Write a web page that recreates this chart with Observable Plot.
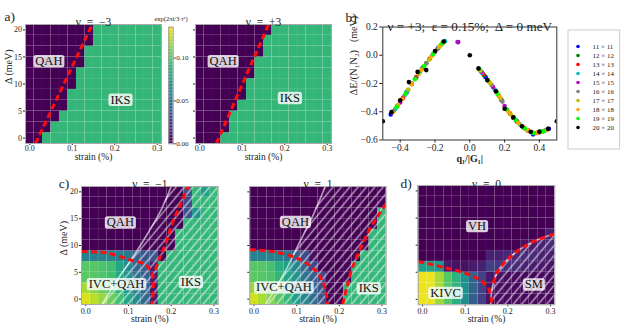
<!DOCTYPE html>
<html><head><meta charset="utf-8">
<script src="https://cdn.jsdelivr.net/npm/d3@7"></script>
<script src="https://cdn.jsdelivr.net/npm/@observablehq/plot@0.6"></script>
<style>
html,body{margin:0;padding:0;background:#fff;}
#root{position:relative;width:623px;height:329px;overflow:hidden;background:#fff;}
#root svg{position:absolute;overflow:visible;}
</style></head><body><div id="root"></div>
<script>
// ---------------- data ----------------
const strains = [0,0.02,0.04,0.06,0.08,0.1,0.12,0.14,0.16,0.18,0.2,0.22,0.24,0.26,0.28,0.3];
const deltas = [0,2,4,6,8,10,12,14,16,18,20];
const valQAH = 0, valIKS = 0.09;
// first IKS column (index into strains) for each Δ row, panel a
const edgeNuM3 = [2,3,4,5,5,6,6,7,7,8,8];
const edgeNuP3 = [3,4,4,5,6,6,7,7,8,8,9];
// panel c/d grids, rows listed from Δ=20 (top) down to Δ=0
const gridNuM1 = [
 [0,0,0,0,0,0,0,0,0,0,0,0,0.035,0.09,0.075,0.09],
 [0,0,0,0,0,0,0,0,0,0,0,0,0.03,0.09,0.09,0.09],
 [0,0,0,0,0,0,0,0,0,0,0,0,0.035,0.07,0.09,0.09],
 [0,0,0,0,0,0,0,0,0,0,0,0,0.09,0.09,0.09,0.09],
 [0,0,0,0,0,0,0,0,0,0,0,0.09,0.09,0.09,0.09,0.09],
 [0,0,0,0,0,0,0,0,0,0,0,0.09,0.09,0.09,0.09,0.09],
 [0.06,0.06,0.06,0.06,0.058,0.055,0.04,0.035,0.035,0,0.09,0.09,0.09,0.09,0.09,0.09],
 [0.1,0.1,0.098,0.095,0.08,0.065,0.045,0.04,0.01,0.09,0.09,0.09,0.09,0.09,0.09,0.09],
 [0.102,0.1,0.098,0.095,0.082,0.068,0.05,0.04,0.012,0.09,0.09,0.09,0.09,0.09,0.09,0.09],
 [0.118,0.112,0.105,0.1,0.09,0.075,0.06,0.045,0.01,0.09,0.09,0.09,0.09,0.09,0.09,0.09],
 [0.128,0.122,0.115,0.105,0.095,0.08,0.065,0.045,0.01,0.09,0.09,0.09,0.09,0.09,0.09,0.09]
];
const gridNuP1 = [
 [0,0,0,0,0,0,0,0,0,0,0,0,0,0,0,0],
 [0,0,0,0,0,0,0,0,0,0,0,0,0,0,0,0],
 [0,0,0,0,0,0,0,0,0,0,0,0,0,0,0,0.09],
 [0,0,0,0,0,0,0,0,0,0,0,0,0,0,0,0.09],
 [0,0,0,0,0,0,0,0,0,0,0,0,0,0,0.09,0.09],
 [0,0,0,0,0,0,0,0,0,0,0,0,0,0,0.09,0.09],
 [0.06,0.06,0.06,0.058,0.055,0.04,0.03,0.005,0,0,0,0,0,0.09,0.09,0.09],
 [0.1,0.1,0.096,0.085,0.075,0.062,0.045,0.03,0,0,0,0,0.09,0.09,0.09,0.09],
 [0.102,0.1,0.098,0.09,0.08,0.068,0.052,0.04,0.03,0,0,0,0.09,0.09,0.09,0.09],
 [0.115,0.108,0.1,0.095,0.085,0.072,0.058,0.045,0.035,0,0,0.09,0.09,0.09,0.09,0.09],
 [0.126,0.118,0.11,0.1,0.09,0.077,0.062,0.048,0.035,0,0,0.09,0.09,0.09,0.09,0.09]
];
const gridNu0 = [
 [0,0,0,0,0,0,0,0,0,0,0,0,0,0,0,0],
 [0,0,0,0,0,0,0,0,0,0,0,0,0,0,0,0],
 [0,0,0,0,0,0,0,0,0,0,0,0,0,0,0,0],
 [0,0,0,0,0,0,0,0,0,0,0,0,0,0,0,0],
 [0,0,0,0,0,0,0,0,0,0,0,0,0,0,0,0.012],
 [0,0,0,0,0,0,0,0,0,0,0,0,0.006,0.01,0.012,0.015],
 [0,0,0,0,0,0,0,0,0.012,0.012,0.014,0.015,0.016,0.015,0.012,0.01],
 [0.078,0.078,0.072,0.01,0.006,0.006,0.01,0.012,0.025,0.022,0.018,0.015,0.012,0.01,0.008,0.006],
 [0.132,0.132,0.118,0.1,0.088,0.068,0.042,0.027,0.008,0.006,0.004,0.003,0.003,0.003,0.003,0.003],
 [0.132,0.132,0.118,0.1,0.088,0.068,0.042,0.027,0.007,0.005,0.004,0.003,0.003,0.003,0.003,0.003],
 [0.132,0.132,0.116,0.1,0.086,0.066,0.04,0.025,0.006,0.004,0.003,0.003,0.003,0.003,0.003,0.003]
];
// phase boundaries (strain, Δ)
const redNuM3 = [[0.0135,-1],[0.147,21]];
const redNuP3 = [[0.039,-1],[0.162,21]];
const redNuM1a = [[-0.01,8.9],[0.05,8.6],[0.105,7.3],[0.14,6.4],[0.156,4.6],[0.158,2.5],[0.157,0.5],[0.155,-1]];
const redNuM1b = [[0.163,5.5],[0.172,7.5],[0.187,10.3],[0.202,14],[0.222,17.7],[0.24,21]];
const redNuP1a = [[-0.01,9.2],[0.05,8.8],[0.105,7.5],[0.144,5.35],[0.163,2.9],[0.171,0],[0.172,-1]];
const redNuP1b = [[0.208,-1],[0.218,2.3],[0.23,5.7],[0.249,9.35],[0.269,12.7],[0.288,15.2],[0.31,17.8]];
const redNu0a = [[-0.01,7.0],[0.05,5.9],[0.105,4.7],[0.136,3.5],[0.155,1.95],[0.161,0.1],[0.162,-1]];
const redNu0b = [[0.166,3],[0.178,5.4],[0.195,7.0],[0.214,8.4],[0.24,9.8],[0.27,11],[0.31,12.1]];
const hatchNuM1 = [[0.038,-1],[0.073,3.5],[0.105,7.2],[0.144,12.1],[0.175,16.4],[0.2,21]];
const hatchNuP1 = [[0.027,-1],[0.07,4.7],[0.105,10.3],[0.136,15.2],[0.167,21]];
const hatchNu0 = [[0.16,-1],[0.162,1.5],[0.168,3.5],[0.178,5.4],[0.195,7.0],[0.214,8.4],[0.24,9.8],[0.27,11],[0.31,12.1]];
// phase labels [text, strain, Δ]
const labNuM3 = [["QAH",0.045,14.2],["IKS",0.2135,7.1]];
const labNuP3 = [["QAH",0.055,14.2],["IKS",0.212,7.4]];
const labNuM1 = [["QAH",0.081,14.3],["IVC+QAH",0.072,2.8],["IKS",0.246,3.2]];
const labNuP1 = [["QAH",0.097,14.4],["IVC+QAH",0.07,2.2],["IKS",0.269,2.0]];
const labNu0 = [["VH",0.128,13.5],["KIVC",0.054,1.2],["SM",0.261,2.75]];

// panel b: [q1/|G1|, ΔE/(N1N2)] per system size
const sizeLabels = ["11 × 11","12 × 12","13 × 13","14 × 14","15 × 15","16 × 16","17 × 17","18 × 18","19 × 19","20 × 20"];
const sizeColors = ["#0000ff","#008000","#ff0000","#00bfbf","#bf00bf","#808080","#bfbf00","#ffa500","#00ff00","#000000"];
const s11 = [[-0.4545,-0.42],[-0.3636,-0.263],[-0.2727,-0.094],[-0.1818,0.051],[0.0909,-0.155],[0.1818,-0.316],[0.2727,-0.47],[0.3636,-0.56],[0.4545,-0.52]];
const s12 = [[-0.4167,-0.36],[-0.3333,-0.203],[-0.25,-0.057],[-0.1667,0.072],[0.0833,-0.143],[0.1667,-0.287],[0.25,-0.44],[0.3333,-0.532],[0.4167,-0.54]];
const s13 = [[-0.3846,-0.303],[-0.3077,-0.155],[-0.2308,-0.025],[-0.1538,0.088],[0.0769,-0.133],[0.1538,-0.262],[0.2308,-0.413],[0.3077,-0.51],[0.3846,-0.55]];
const s14 = [[-0.4286,-0.38],[-0.3571,-0.25],[-0.2857,-0.117],[-0.2143,0.002],[-0.1429,0.1],[-0.0714,0.093],[0.0714,-0.125],[0.1429,-0.242],[0.2143,-0.386],[0.2857,-0.487],[0.3571,-0.546],[0.4286,-0.535]];
const s15 = [[-0.4,-0.334],[-0.3333,-0.203],[-0.2667,-0.084],[-0.2,0.024],[-0.0667,0.093],[0.0667,-0.118],[0.1333,-0.225],[0.2,-0.36],[0.2667,-0.462],[0.3333,-0.532],[0.4,-0.546]];
const s16 = [[-0.4375,-0.395],[-0.375,-0.285],[-0.3125,-0.164],[-0.25,-0.057],[-0.1875,0.043],[0.0625,-0.112],[0.125,-0.21],[0.1875,-0.328],[0.25,-0.44],[0.3125,-0.515],[0.375,-0.551],[0.4375,-0.53]];
const s17 = [[-0.4118,-0.352],[-0.3529,-0.242],[-0.2941,-0.132],[-0.2353,-0.032],[-0.1765,0.059],[0.0588,-0.107],[0.1176,-0.198],[0.1765,-0.305],[0.2353,-0.42],[0.2941,-0.497],[0.3529,-0.544],[0.4118,-0.542]];
const s18 = [[-0.4444,-0.405],[-0.3889,-0.312],[-0.3333,-0.203],[-0.2778,-0.103],[-0.2222,-0.011],[-0.1667,0.072],[0.0556,-0.102],[0.1111,-0.188],[0.1667,-0.287],[0.2222,-0.4],[0.2778,-0.477],[0.3333,-0.532],[0.3889,-0.548],[0.4444,-0.527]];
const s19 = [[-0.4211,-0.368],[-0.3684,-0.272],[-0.3158,-0.17],[-0.2632,-0.078],[-0.2105,0.008],[-0.1579,0.083],[0.0526,-0.097],[0.1053,-0.178],[0.1579,-0.27],[0.2105,-0.38],[0.2632,-0.457],[0.3158,-0.518],[0.3684,-0.55],[0.4211,-0.538]];
const s20 = [[-0.5,-0.467],[-0.45,-0.403],[-0.4,-0.319],[-0.35,-0.19],[-0.3,-0.118],[-0.25,-0.105],[-0.2,0.03],[-0.15,0.097],[0,0],[0.05,-0.093],[0.1,-0.176],[0.15,-0.255],[0.2,-0.379],[0.25,-0.44],[0.3,-0.503],[0.35,-0.542],[0.4,-0.541],[0.45,-0.521],[0.5,-0.467]];
const seriesB = [s11,s12,s13,s14,s15,s16,s17,s18,s19,s20];
const titleB = "ν = +3;  ε = 0.15%;  Δ = 0 meV";

// ---------------- drawing ----------------
const root = document.getElementById("root");
const FONT = "Liberation Serif";
const cmax = 0.136;
const RED = "#ff0d0d";
const colorOpts = {type: "linear", scheme: "viridis", domain: [0, cmax]};
const phaseNames = new Set([].concat(labNuM3, labNuP3, labNuM1, labNuP1, labNu0).map(d => d[0]));
const titles = [];

// hatch pattern
const defsSvg = d3.select(root).append("svg").attr("width", 0).attr("height", 0);
const pat = defsSvg.append("defs").append("pattern").attr("id", "hatch")
  .attr("patternUnits", "userSpaceOnUse").attr("width", 6.4).attr("height", 10)
  .attr("patternTransform", "rotate(40)");
pat.append("line").attr("x1", 3.2).attr("x2", 3.2).attr("y1", -1).attr("y2", 11)
  .attr("stroke", "#fff").attr("stroke-width", 1.4).attr("stroke-opacity", 0.62);

function place(svg, left, top) {
  svg.style.left = left + "px"; svg.style.top = top + "px";
  root.appendChild(svg);
  return svg;
}

function heatPanel(o) {
  const cells = [];
  o.grid.forEach((row, i) => row.forEach((v, j) => cells.push({s: strains[j], d: deltas[i], v})));
  const hs = (strains[1] - strains[0]) / 2, hd = (deltas[1] - deltas[0]) / 2;
  const xmax = strains[strains.length - 1] + hs;
  const marks = [
    Plot.rect(cells, {x1: c => c.s - hs, x2: c => c.s + hs, y1: c => c.d - hd, y2: c => c.d + hd,
      fill: "v", stroke: "#fff", strokeOpacity: 0.06, strokeWidth: 0.6})
  ];
  if (o.hatch) {
    marks.push(Plot.areaX(o.hatch, {y: d => d[1], x1: d => d[0], x2: xmax, fill: "url(#hatch)", curve: "catmull-rom", clip: true}));
    marks.push(Plot.line(o.hatch, {x: d => d[0], y: d => d[1], stroke: "#fff", strokeOpacity: 0.6, strokeWidth: 1.7, curve: "catmull-rom", clip: true}));
  }
  (o.reds || []).forEach(r => marks.push(Plot.line(r, {x: d => d[0], y: d => d[1], stroke: RED,
    strokeWidth: 3, strokeDasharray: "6 3.5", strokeLinecap: "butt", strokeLinejoin: "miter", curve: "catmull-rom", clip: true})));
  marks.push(Plot.frame({stroke: "#aaa"}));
  marks.push(Plot.text(o.labels, {x: d => d[1], y: d => d[2], text: d => d[0], fontSize: 12.5, fill: "#111"}));
  marks.push(Plot.text([o.title], {frameAnchor: "top", dy: o.titleDy, text: d => d, textAnchor: "middle", fontSize: 11.5}));
  marks.push(Plot.text(["strain (%)"], {frameAnchor: "bottom", dy: o.xlabDy, text: d => d, textAnchor: "middle", fontSize: 9.5}));
  if (o.showY) marks.push(Plot.text(["Δ (meV)"], {frameAnchor: "left", dx: o.ylabDx, dy: o.ylabDy || 0, rotate: -90, text: d => d, fontSize: 10}));
  if (o.letter) marks.push(Plot.text([o.letter], {frameAnchor: "top-left", dx: o.letterDx, dy: o.letterDy, textAnchor: "start", text: d => d, fontSize: 13.5}));
  const svg = Plot.plot({
    width: o.width, height: o.height,
    marginLeft: o.mL, marginRight: o.mR, marginTop: o.mT, marginBottom: o.mB,
    style: {background: "transparent", fontFamily: FONT, fontSize: "8px", color: "#222", overflow: "visible"},
    x: {domain: [strains[0] - hs, xmax], ticks: [0, 0.1, 0.2, 0.3], tickFormat: d3.format(".1f"), tickSize: 2, tickPadding: o.xPad ?? 1.5, label: null},
    y: {domain: [deltas[0] - hd, deltas[deltas.length - 1] + hd], ticks: [0, 5, 10, 15, 20],
        tickFormat: o.showY ? (d => d) : (() => ""), tickSize: 2, tickPadding: 1.5, label: null},
    color: colorOpts,
    marks
  });
  place(svg, o.left, o.top);
  titles.push([svg, o.title, null]);
  return svg;
}

const byDelta = rowsTopFirst => rowsTopFirst.slice().reverse();
const fromEdges = edges => deltas.map((d, i) => strains.map((s, j) => j >= edges[i] ? valIKS : valQAH));

// panel a
heatPanel({grid: fromEdges(edgeNuM3), left: 0, top: 0, width: 165, height: 165, mL: 25, mR: 4, mT: 24, mB: 22, xPad: 0,
  showY: true, title: "ν\u2002=\u2002−3", titleDy: -7, xlabDy: 16.5, ylabDx: -17, letter: "a)", letterDx: -21, letterDy: -13,
  reds: [redNuM3], labels: labNuM3});
heatPanel({grid: fromEdges(edgeNuP3), left: 170, top: 0, width: 165, height: 165, mL: 25, mR: 4, mT: 24, mB: 22, xPad: 0,
  showY: false, title: "ν\u2002=\u2002+3", titleDy: -7, xlabDy: 16.5,
  reds: [redNuP3], labels: labNuP3});

// colorbar
const cbStep = 0.0017;
const cbSteps = d3.range(0, cmax, cbStep);
place(Plot.plot({
  width: 30, height: 160, marginLeft: 3.3, marginRight: 22.3, marginTop: 26.7, marginBottom: 16.7,
  style: {background: "transparent", fontFamily: FONT, fontSize: "7px", color: "#222", overflow: "visible"},
  x: {domain: [0, 1], axis: null},
  y: {domain: [0, cmax], axis: "right", ticks: [0, 0.05, 0.1], tickFormat: d3.format(".2f"), tickSize: 2, tickPadding: 1, label: null},
  color: colorOpts,
  marks: [
    Plot.rect(cbSteps, {x1: 0, x2: 1, y1: d => d, y2: d => Math.min(d + cbStep, cmax), fill: d => d}),
    Plot.frame({stroke: "#999"}),
    Plot.text(["exp(2πi/3 τᶻ)"], {frameAnchor: "top", dy: -11, text: d => d, textAnchor: "middle", fontSize: 6.5})
  ]
}), 165, 0);

// panel b
const bData = [];
seriesB.forEach((arr, i) => arr.forEach(p => bData.push({q: p[0], E: p[1], n: sizeLabels[i]})));
const svgB = place(Plot.plot({
  width: 225, height: 168, marginLeft: 45.3, marginRight: 5.7, marginTop: 26.5, marginBottom: 28.5,
  style: {background: "transparent", fontFamily: FONT, fontSize: "9.5px", color: "#222", overflow: "visible"},
  x: {domain: [-0.5, 0.5], ticks: [-0.4, -0.2, 0, 0.2, 0.4], tickFormat: d3.format(".1f"), tickSize: 3, tickPadding: 1, label: null},
  y: {domain: [-0.6, 0.2], ticks: [-0.6, -0.4, -0.2, 0, 0.2], tickFormat: d3.format(".1f"), tickSize: 3, tickPadding: 2, label: null},
  color: {domain: sizeLabels, range: sizeColors},
  marks: [
    Plot.dot(bData, {x: "q", y: "E", fill: "n", r: 2.3, clip: true}),
    Plot.frame({stroke: "#333"}),
    Plot.text([titleB], {frameAnchor: "top", dy: -5.5, text: d => d, textAnchor: "middle", fontSize: 11.5}),
    Plot.text(["ΔE/(N₁N₂)"], {frameAnchor: "left", dx: -29.3, dy: 12, rotate: -90, text: d => d, fontSize: 10.5}),
    Plot.text(["(meV)"], {frameAnchor: "left", dx: -29.3, dy: -41.5, rotate: -90, text: d => d, fontSize: 10}),
    Plot.text(["q₁/|G₁|"], {frameAnchor: "bottom", dy: 22, text: d => d, textAnchor: "middle", fontSize: 10, fontWeight: "bold"}),
    Plot.text(["b)"], {frameAnchor: "top-left", dx: -37.3, dy: -14.8, textAnchor: "start", text: d => d, fontSize: 13.5})
  ]
}), 337, 0);
titles.push([svgB, titleB, 0.95]);

// legend of panel b
place(Plot.plot({
  width: 52.6, height: 120, marginLeft: 0, marginRight: 0, marginTop: 0, marginBottom: 0,
  style: {background: "transparent", fontFamily: FONT, fontSize: "7px", color: "#222", overflow: "visible"},
  x: {domain: [0, 1], axis: null},
  y: {type: "point", domain: sizeLabels, range: [8, 106.4], axis: null},
  color: {domain: sizeLabels, range: sizeColors},
  marks: [
    Plot.frame({stroke: "#ccc", inset: 0.5}),
    Plot.dot(sizeLabels, {x: () => 0.2, y: d => d, fill: d => d, r: 1.8}),
    Plot.text(sizeLabels, {x: () => 0.475, y: d => d, text: d => d, textAnchor: "start", fontSize: 7})
  ]
}), 566.7, 29.3);

// panel c
heatPanel({grid: byDelta(gridNuM1), left: 40, top: 165, width: 182, height: 164, mL: 41, mR: 4.3, mT: 21, mB: 25,
  showY: true, title: "ν\u2002=\u2002−1", titleDy: -7, xlabDy: 17.7, ylabDx: -17.7, ylabDy: 10,
  letter: "c)", letterDx: -22.7, letterDy: -8.5,
  hatch: hatchNuM1, reds: [redNuM1a, redNuM1b], labels: labNuM1});
heatPanel({grid: byDelta(gridNuP1), left: 222, top: 165, width: 168, height: 164, mL: 27.3, mR: 4.3, mT: 21, mB: 25,
  showY: false, title: "ν\u2002=\u20021", titleDy: -7, xlabDy: 17.7,
  hatch: hatchNuP1, reds: [redNuP1a, redNuP1b], labels: labNuP1});
// panel d
heatPanel({grid: byDelta(gridNu0), left: 392, top: 165, width: 168, height: 164, mL: 25.7, mR: 5.7, mT: 20, mB: 24.7,
  showY: false, title: "ν\u2002=\u20020", titleDy: -5.5, xlabDy: 16.7,
  letter: "d)", letterDx: -17.7, letterDy: -6.7,
  hatch: hatchNu0, reds: [redNu0a, redNu0b], labels: labNu0});

// dashed phase-boundary lines (butt caps so the gaps stay open)
root.querySelectorAll("g").forEach(g => {
  if (g.getAttribute("stroke") === RED) {
    g.setAttribute("stroke-dasharray", "6 3.5");
    g.setAttribute("stroke-linecap", "butt");
    g.querySelectorAll("path").forEach(p => { p.setAttribute("stroke-dasharray", "6 3.5"); p.setAttribute("stroke-linecap", "butt"); });
  }
});
// rounded translucent boxes behind phase labels
const NS = "http://www.w3.org/2000/svg";
root.querySelectorAll("text").forEach(t => {
  if (!phaseNames.has(t.textContent)) return;
  const b = t.getBBox();
  const r = document.createElementNS(NS, "rect");
  r.setAttribute("x", b.x - 2); r.setAttribute("y", b.y + 0.8);
  r.setAttribute("width", b.width + 4); r.setAttribute("height", b.height - 1.6);
  r.setAttribute("rx", 2.5); r.setAttribute("fill", "#fff"); r.setAttribute("fill-opacity", 0.8);
  r.setAttribute("stroke", "none");
  if (t.getAttribute("transform")) r.setAttribute("transform", t.getAttribute("transform"));
  if (t.getAttribute("x")) r.setAttribute("transform", `translate(${t.getAttribute("x")},${t.getAttribute("y")})`);
  t.parentNode.insertBefore(r, t);
});
// titles: optionally fit width to a fraction of the frame, then center over the frame
titles.forEach(([svg, str, ratio]) => {
  const fr = svg.querySelector('rect[aria-label="frame"]') || svg.querySelector('[aria-label="frame"] rect');
  const t = [...svg.querySelectorAll("text")].find(e => e.textContent === str);
  if (!fr || !t) return;
  let fb = fr.getBoundingClientRect(), tb = t.getBoundingClientRect();
  if (ratio && tb.width > 0) {
    const fs = parseFloat(getComputedStyle(t).fontSize);
    t.style.fontSize = (fs * ratio * fb.width / tb.width) + "px";
    tb = t.getBoundingClientRect();
  }
  const shift = (fb.left + fb.width / 2) - (tb.left + tb.width / 2);
  if (Math.abs(shift) > 0.3) t.setAttribute("transform", `translate(${shift},0) ` + (t.getAttribute("transform") || ""));
});
</script></body></html>
